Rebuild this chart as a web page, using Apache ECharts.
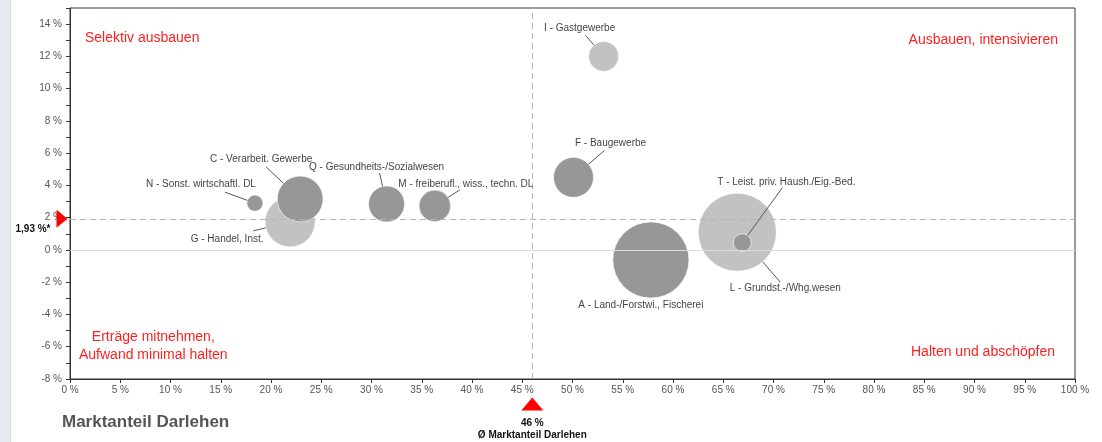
<!DOCTYPE html>
<html>
<head>
<meta charset="utf-8">
<script src="https://cdn.jsdelivr.net/npm/echarts@6/dist/echarts.min.js"></script>
<style>
  html, body { margin: 0; padding: 0; background: #fff; }
  #strip { position: absolute; left: 0; top: 0; width: 10px; height: 442px; background: #e6ebf1; border-right: 1px solid #d8dee6; }
  #chart { position: absolute; left: 0; top: 0; width: 1102px; height: 442px; }
</style>
</head>
<body>
<div id="strip"></div>
<div id="chart"></div>
<script>
// Sectors (WZ sections) with market share, growth and volume
const sectors = [
  'G - Handel, Inst.',
  'I - Gastgewerbe',
  'L - Grundst.-/Whg.wesen',
  'A - Land-/Forstwi., Fischerei',
  'C - Verarbeit. Gewerbe',
  'F - Baugewerbe',
  'M - freiberufl., wiss., techn. DL',
  'N - Sonst. wirtschaftl. DL',
  'Q - Gesundheits-/Sozialwesen',
  'T - Leist. priv. Haush./Eig.-Bed.'
];
const marketShare = [21.9, 53.1, 66.4, 57.8, 22.9, 50.1, 36.3, 18.4, 31.5, 66.9];
const growth      = [1.74, 12.0, 1.1, -0.62, 3.16, 4.5, 2.73, 2.9, 2.85, 0.45];
const volume      = [25, 9, 61, 58, 21, 16, 10, 2.6, 13, 3.2];

const avgShare = 46;     // Ø Marktanteil Darlehen
const avgGrowth = 1.93;  // average growth

const xTicks = { min: 0, max: 100, step: 5 };
const yTicks = { min: -8, max: 15, step: 1 };

// ---- styling / layout ----
const FONT = 'Liberation Sans Narrow, Liberation Sans, Arial, sans-serif';
const RED = '#ff1f1f';
const lightSectors = ['G', 'I', 'L'];
const bubbleDiameter = v => 10 * Math.sqrt(v);
// label centre and leader-line anchor, in pixels relative to the bubble centre
const labelOffset = {
  N: [-54, -19], C: [-39, -40], G: [-63, 17], Q: [-10, -37], M: [31, -22],
  I: [-24, -28], F: [37, -34], A: [-10, 45], L: [48, 56], T: [44, -60]
};
const leaderAnchor = {
  N: [-30, -11], C: [-34, -32], G: [-37, 9], Q: [-7, -31], M: [25, -16],
  I: [-18, -21], F: [31, -27], L: [43, 50], T: [40, -55]
};
const fmtPct = v => String(v).replace('.', ',') + ' %';

const items = sectors.map((name, i) => ({
  name: name,
  value: [marketShare[i], growth[i], volume[i]],
  itemStyle: { color: lightSectors.includes(name.charAt(0)) ? '#c2c2c2' : '#979797' }
}));

const chart = echarts.init(document.getElementById('chart'), null, { renderer: 'canvas' });

chart.setOption({
  animation: false,
  textStyle: { fontFamily: FONT },
  grid: { left: 70, right: 27, top: 8, bottom: 63, show: true, borderColor: '#333', borderWidth: 1 },
  xAxis: {
    type: 'value', min: xTicks.min, max: xTicks.max, interval: xTicks.step,
    axisLine: { onZero: false, lineStyle: { color: '#333' } },
    axisTick: { show: true, length: 4, lineStyle: { color: '#333' } },
    axisLabel: { color: '#555', fontSize: 10, margin: 6, formatter: v => v + ' %' },
    splitLine: { show: false }
  },
  yAxis: {
    type: 'value', min: yTicks.min, max: yTicks.max, interval: yTicks.step,
    axisLine: { show: true, onZero: false, lineStyle: { color: '#333' } },
    axisTick: { show: true, length: 4, lineStyle: { color: '#333' } },
    axisLabel: { color: '#555', fontSize: 10, margin: 8,
      formatter: v => (v % 2 === 0 ? v + ' %' : '') },
    splitLine: { show: false }
  },
  graphic: [
    { type: 'text', left: 85, top: 31, style: { text: 'Selektiv ausbauen', fill: RED, font: '14px ' + FONT } },
    { type: 'text', right: 44, top: 33, style: { text: 'Ausbauen, intensivieren', fill: RED, font: '14px ' + FONT } },
    { type: 'text', left: 79, top: 328, style: { text: 'Erträge mitnehmen,\nAufwand minimal halten', fill: RED, font: '14px ' + FONT, textAlign: 'center', lineHeight: 18, x: 74 } },
    { type: 'text', right: 47, top: 345, style: { text: 'Halten und abschöpfen', fill: RED, font: '14px ' + FONT } },
    { type: 'text', left: 62, top: 414, style: { text: 'Marktanteil Darlehen', fill: '#555', font: 'bold 17px ' + FONT } }
  ],
  series: [
    {
      type: 'scatter',
      z: 2,
      data: items,
      symbolSize: d => bubbleDiameter(d[2]),
      itemStyle: { opacity: 1, borderColor: 'rgba(255,255,255,0.6)', borderWidth: 1 },
      markLine: {
        silent: true, symbol: 'none', label: { show: false },
        data: [
          { yAxis: 0, lineStyle: { color: '#dcdcdc', type: 'solid', width: 1 } },
          { yAxis: avgGrowth, lineStyle: { color: '#b5b5b5', type: [6, 4], width: 1 } },
          { xAxis: avgShare, lineStyle: { color: '#b5b5b5', type: [6, 4], width: 1 } }
        ]
      },
      markPoint: {
        silent: true,
        data: [
          { coord: [xTicks.min, avgGrowth], symbol: 'triangle', symbolSize: [18, 11], symbolRotate: -90,
            symbolOffset: [-8, 0], itemStyle: { color: '#ff0000' }, label: { show: false } },
          { coord: [xTicks.min, avgGrowth], symbol: 'circle', symbolSize: 0,
            label: { show: true, position: 'inside', offset: [-37, 10], color: '#111', fontWeight: 'bold', fontSize: 10,
              formatter: () => fmtPct(avgGrowth) + '*' } },
          { coord: [avgShare, yTicks.min], symbol: 'triangle', symbolSize: [22, 13],
            symbolOffset: [0, 25], itemStyle: { color: '#ff0000' }, label: { show: false } },
          { coord: [avgShare, yTicks.min], symbol: 'circle', symbolSize: 0,
            label: { show: true, position: 'inside', offset: [0, 50], color: '#111', fontWeight: 'bold', fontSize: 10,
              lineHeight: 12, align: 'center',
              formatter: () => fmtPct(avgShare) + '\nØ Marktanteil Darlehen' } }
        ]
      }
    },
    {
      // sector names with leader lines to the bubble rims
      type: 'custom',
      z: 10,
      silent: true,
      clip: false,
      data: sectors.map((name, i) => [marketShare[i], growth[i], volume[i]]),
      renderItem: (params, api) => {
        const i = params.dataIndex;
        const key = sectors[i].charAt(0);
        const c = api.coord([api.value(0), api.value(1)]);
        const r = bubbleDiameter(api.value(2)) / 2;
        const off = labelOffset[key];
        const children = [];
        const a = leaderAnchor[key];
        if (a) {
          const len = Math.hypot(a[0], a[1]);
          children.push({
            type: 'line',
            z2: 100,
            shape: { x1: c[0] + a[0], y1: c[1] + a[1], x2: c[0] + a[0] * r / len, y2: c[1] + a[1] * r / len },
            style: { stroke: '#555', lineWidth: 1 }
          });
        }
        children.push({
          type: 'text',
          z2: 100,
          style: { text: sectors[i], x: c[0] + off[0], y: c[1] + off[1], align: 'center', verticalAlign: 'middle',
            fill: '#444', font: '10px ' + FONT }
        });
        return { type: 'group', children: children };
      }
    }
  ]
});
</script>
</body>
</html>
